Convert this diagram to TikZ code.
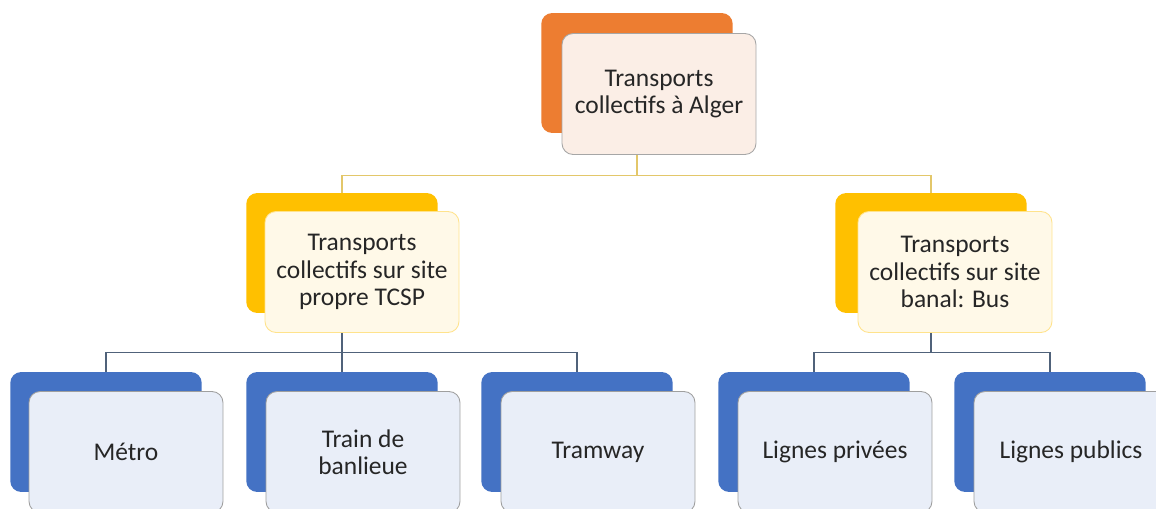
\documentclass[tikz,border=0pt]{standalone}
\usepackage{fontspec}
\setmainfont{Carlito}
\usepackage{xcolor}
\usepackage{tikz}
\usetikzlibrary{positioning,calc}

\definecolor{accOrange}{HTML}{ED7D31}
\definecolor{accYellow}{HTML}{FFC000}
\definecolor{accBlue}{HTML}{4472C4}
\definecolor{tintOrange}{HTML}{FBEEE6}
\definecolor{tintYellow}{HTML}{FFF9E8}
\definecolor{tintBlue}{HTML}{E9EEF8}
\definecolor{lineGold}{HTML}{E3C76A}
\definecolor{lineSlate}{HTML}{50627A}
\definecolor{txtDark}{HTML}{262626}

\begin{document}
\begin{tikzpicture}[x=0.02cm, y=-0.02cm,
		backbox/.style={rectangle, rounded corners=0.22cm, fill=#1, minimum width=3.83cm, minimum height=2.4cm, inner sep=0pt},
		frontbox/.style={rectangle, rounded corners=0.22cm, draw=#1, line width=0.5pt, minimum width=3.88cm, minimum height=2.42cm, inner sep=2pt, align=center, text=txtDark, font=\fontsize{14.5}{15.6}\selectfont},
		link/.style={line width=0.7pt}]
		\useasboundingbox (0,0) rectangle (1156,509);
		\clip (0,0) rectangle (1156,509);
		\fill[white] (0,0) rectangle (1156,509);

		% coloured back cards
		\node[backbox=accOrange] (alger) at (637,73) {};
		\node[backbox=accYellow] (tcsp) at (342,253) {};
		\node[backbox=accYellow] (bus) at (931,253) {};
		\node[backbox=accBlue] (metro) at (106,432) {};
		\node[backbox=accBlue] (train) at (342,432) {};
		\node[backbox=accBlue] (tram) at (577,432) {};
		\node[backbox=accBlue] (privees) at (814,432) {};
		\node[backbox=accBlue] (publics) at (1050,432) {};

		% connectors
		\draw[link, lineGold] (alger.south) -- +(0,42) -| (tcsp.north);
		\draw[link, lineGold] (alger.south) -- +(0,42) -| (bus.north);
		\foreach \child in {metro,train,tram}
			\draw[link, lineSlate] (tcsp.south) -- +(0,39) -| (\child.north);
		\foreach \child in {privees,publics}
			\draw[link, lineSlate] (bus.south) -- +(0,39) -| (\child.north);

		% light front cards with the texts
		\node[frontbox=gray!70, fill=tintOrange] (algerF) at (659,94) {Transports\\collectifs à Alger};
		\node[frontbox=accYellow!45, fill=tintYellow] (tcspF) at (362,272) {Transports\\collectifs sur site\\propre TCSP};
		\node[frontbox=accYellow!45, fill=tintYellow] (busF) at (955,272) {Transports\\collectifs sur site\\banal: Bus};
		\node[frontbox=gray!75, fill=tintBlue] (metroF) at (126,452) {Métro};
		\node[frontbox=gray!75, fill=tintBlue] (trainF) at (363,452) {Train de\\banlieue};
		\node[frontbox=gray!75, fill=tintBlue] (tramF) at (598,452) {Tramway};
		\node[frontbox=gray!75, fill=tintBlue] (priveesF) at (835,452) {Lignes privées};
		\node[frontbox=gray!75, fill=tintBlue] (publicsF) at (1071,452) {Lignes publics};
	\end{tikzpicture}
\end{document}
